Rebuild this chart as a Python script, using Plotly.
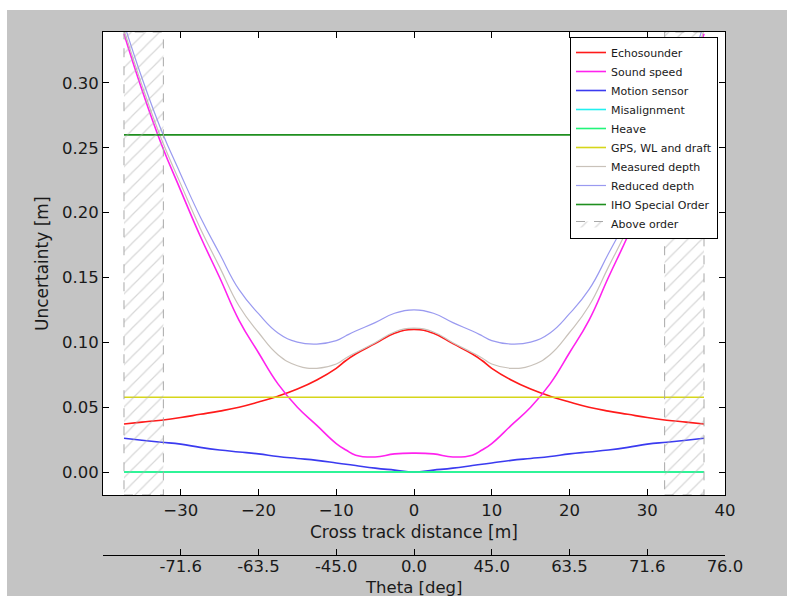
import numpy as np
import plotly.graph_objects as go

# ---------------- data ----------------
cross_track_m = [-37.3, -35.0, -32.5, -30.0, -27.5, -25.0, -22.5, -20.0, -17.5, -15.0,
                 -12.5, -10.0, -8.75, -7.5, -5.0, -2.5, 0.0, 2.5, 5.0, 7.5, 8.75, 10.0,
                 12.5, 15.0, 17.5, 20.0, 22.5, 25.0, 27.5, 30.0, 32.5, 35.0, 37.3]

echosounder = [0.037, 0.0385, 0.040, 0.042, 0.0445, 0.047, 0.050, 0.054, 0.0585, 0.064,
               0.071, 0.080, 0.086, 0.091, 0.099, 0.107, 0.110, 0.107, 0.099, 0.091, 0.086,
               0.080, 0.071, 0.064, 0.0585, 0.054, 0.050, 0.047, 0.0445, 0.042, 0.040,
               0.0385, 0.037]

sound_speed = [0.338, 0.295, 0.253, 0.217, 0.182, 0.150, 0.117, 0.092, 0.068, 0.050,
               0.036, 0.022, 0.017, 0.013, 0.0116, 0.0140, 0.0146, 0.0140, 0.0116, 0.013,
               0.017, 0.022, 0.036, 0.050, 0.068, 0.092, 0.117, 0.150, 0.182, 0.217, 0.253,
               0.295, 0.338]

motion_sensor = [0.026, 0.0245, 0.023, 0.0215, 0.019, 0.017, 0.0155, 0.014, 0.012, 0.0105,
                 0.009, 0.007, 0.006, 0.005, 0.003, 0.0015, 0.0, 0.0015, 0.003, 0.005, 0.006,
                 0.007, 0.009, 0.0105, 0.012, 0.014, 0.0155, 0.017, 0.019, 0.0215, 0.023,
                 0.0245, 0.026]

measured_depth = [0.341, 0.2985, 0.257, 0.222, 0.188, 0.158, 0.128, 0.1076, 0.0905, 0.082,
                  0.080, 0.0833, 0.088, 0.092, 0.0997, 0.108, 0.111, 0.108, 0.0997, 0.092,
                  0.088, 0.0833, 0.080, 0.082, 0.0905, 0.1076, 0.128, 0.158, 0.188, 0.222,
                  0.257, 0.2985, 0.341]

reduced_depth = [0.3458, 0.304, 0.2636, 0.2295, 0.1969, 0.1683, 0.1406, 0.1221, 0.1073,
                 0.1002, 0.0987, 0.1013, 0.1051, 0.1087, 0.1152, 0.1224, 0.1251, 0.1224,
                 0.1152, 0.1087, 0.1051, 0.1013, 0.0987, 0.1002, 0.1073, 0.1221, 0.1406,
                 0.1683, 0.1969, 0.2295, 0.2636, 0.304, 0.3458]

# constant components (two end points across the swath)
const_x = [cross_track_m[0], cross_track_m[-1]]
misalignment = [0.0, 0.0]
heave = [0.0, 0.0]
gps_wl_draft = [0.0577, 0.0577]
iho_special_order = [0.26, 0.26]

x_ticks = [-30, -20, -10, 0, 10, 20, 30, 40]
theta_tick_labels = ["-71.6", "-63.5", "-45.0", "0.0", "45.0", "63.5", "71.6", "76.0"]

y_range = [-0.0177, 0.3393]
x_range = [-40, 40]

# ---------------- regions above the order ----------------
xs = np.array(cross_track_m)
rd = np.array(reduced_depth)
lvl = iho_special_order[0]
edges = []
if rd[0] > lvl:
    edges.append(xs[0])
for i in range(len(xs) - 1):
    a, b = rd[i] - lvl, rd[i + 1] - lvl
    if a * b < 0:
        edges.append(xs[i] + (xs[i + 1] - xs[i]) * (-a) / (b - a))
if rd[-1] > lvl:
    edges.append(xs[-1])
hx, hy = [], []
for k in range(0, len(edges) - 1, 2):
    x0, x1 = edges[k], edges[k + 1]
    hx += [x0, x1, x1, x0, x0, None]
    hy += [y_range[0], y_range[0], y_range[1], y_range[1], y_range[0], None]

FONT = "DejaVu Sans"
TXT = "#1a1a1a"

fig = go.Figure()

fig.add_trace(go.Scatter(
    x=hx, y=hy, xaxis="x2", yaxis="y", mode="lines", fill="toself",
    fillcolor="rgba(0,0,0,0)",
    fillpattern=dict(shape="/", fgcolor="#b0b0b0", bgcolor="rgba(0,0,0,0)",
                     size=10, solidity=0.12),
    line=dict(color="#a8a8a8", width=1, dash="dash"),
    name="Above order", legendrank=1010, hoverinfo="skip"))

def line(x, y, name, color, width, rank):
    fig.add_trace(go.Scatter(x=x, y=y, mode="lines", name=name, legendrank=rank,
                             line=dict(color=color, width=width, shape="spline",
                                       smoothing=1.3)))

line(cross_track_m, echosounder, "Echosounder", "#ff1a1a", 1.6, 1001)
line(cross_track_m, sound_speed, "Sound speed", "#ff22ee", 1.6, 1002)
line(cross_track_m, motion_sensor, "Motion sensor", "#3b3bf0", 1.6, 1003)
line(const_x, misalignment, "Misalignment", "#22f0f0", 1.6, 1004)
line(const_x, heave, "Heave", "#22f57a", 1.6, 1005)
line(const_x, gps_wl_draft, "GPS, WL and draft", "#d6d61a", 1.6, 1006)
line(cross_track_m, measured_depth, "Measured depth", "#c9c2ba", 1.2, 1007)
line(cross_track_m, reduced_depth, "Reduced depth", "#9a9af0", 1.2, 1008)
line(const_x, iho_special_order, "IHO Special Order", "#1f8f1f", 1.6, 1009)

W, H = 787, 596
ml, mr, mt, mb = 103, 62, 32, 41
pw, ph = W - ml - mr, H - mt - mb
plot_bottom = 495
dom0 = (H - mb - plot_bottom) / ph

def px(p):
    return (p - ml) / pw

def py(p):
    return (H - mb - p) / ph

axis_common = dict(showgrid=False, zeroline=False, showline=True, linecolor="black",
                   linewidth=1, ticks="inside", ticklen=6, tickcolor="black",
                   automargin=False,
                   tickfont=dict(family=FONT, size=16.5, color=TXT))

title_font = dict(family=FONT, size=17, color=TXT)

fig.update_layout(
    width=W, height=H,
    margin=dict(l=ml, r=mr, t=mt, b=mb, autoexpand=False),
    paper_bgcolor="#c4c4c4", plot_bgcolor="white",
    font=dict(family=FONT, color=TXT),
    xaxis=dict(**axis_common, range=x_range, tickvals=x_ticks, mirror="ticks",
               anchor="y"),
    xaxis2=dict(**axis_common, range=x_range, tickvals=x_ticks,
                ticktext=theta_tick_labels, overlaying="x", anchor="free",
                position=0, side="bottom", ticklabelstandoff=-4),
    yaxis=dict(**axis_common, range=y_range, domain=[dom0, 1], tick0=0, dtick=0.05,
               tickformat=".2f", mirror="ticks"),
    legend=dict(x=px(718), y=py(37), xanchor="right", yanchor="top",
                bgcolor="white", bordercolor="black", borderwidth=1,
                font=dict(family=FONT, size=11, color=TXT),
                itemwidth=30, tracegroupgap=0),
    annotations=[
        dict(text="Cross track distance [m]", xref="paper", yref="paper",
             x=0.5, y=py(532), xanchor="center", yanchor="middle",
             showarrow=False, font=title_font),
        dict(text="Theta [deg]", xref="paper", yref="paper",
             x=0.5, y=py(587), xanchor="center", yanchor="middle",
             showarrow=False, font=dict(family=FONT, size=16.5, color=TXT)),
        dict(text="Uncertainty [m]", xref="paper", yref="paper",
             x=px(41.5), y=py(263.5), xanchor="center", yanchor="middle",
             textangle=-90, showarrow=False, font=title_font),
    ],
    shapes=[
        dict(type="rect", xref="paper", yref="paper", x0=px(-20), x1=px(W + 20),
             y0=py(10), y1=py(-20), fillcolor="white", line=dict(width=0), layer="above"),
        dict(type="rect", xref="paper", yref="paper", x0=px(-20), x1=px(7),
             y0=py(H + 40), y1=py(-20), fillcolor="white", line=dict(width=0),
             layer="above"),
    ],
)

fig.write_html("out.html")
